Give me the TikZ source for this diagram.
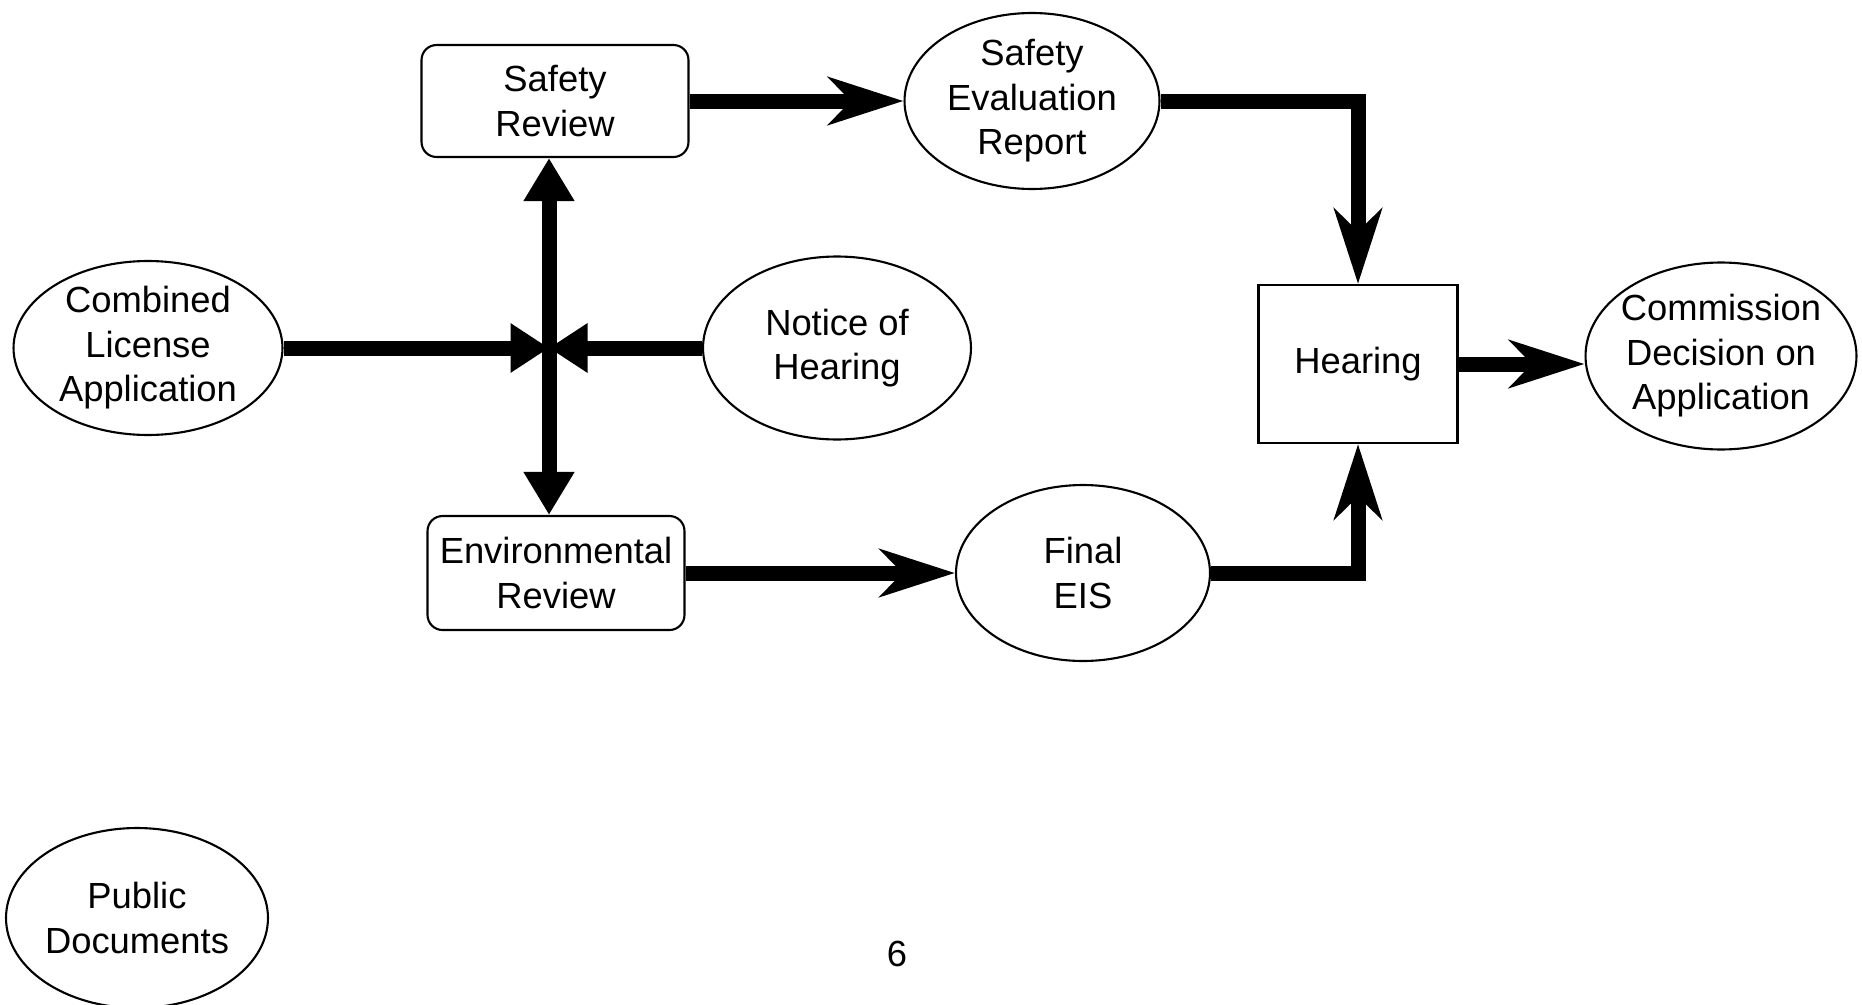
\documentclass[tikz,border=0pt]{standalone}
\usepackage{fontspec}
\setmainfont{Liberation Sans}
\usetikzlibrary{
  shapes,       % Shape "ellipse"
  arrows.meta,  % Tips "Stealth", "Triangle"
  positioning,
}
\def\mylw{0.3cm}
\tikzset{
  x=0.02cm,
  y=-0.02cm,
  font=\fontsize{20.7}{25.3}\selectfont,
  my text/.style={
    align=center,
    inner sep=0mm
  },
  my box/.style={
    draw,
    line width=1.2pt,
    rounded corners=3mm,
    rectangle,
    my text
  },
  my oval/.style={
    draw,
    line width=1.2pt,
    ellipse,
    my text,
    inner xsep=-3mm  % Let minimum width decide
  },
  my flow/.style={
    line width=\mylw,
    -{Stealth[length=1.5cm,width=0.95cm,inset=0.45cm]}
  },
  my meet/.style={
    line width=\mylw,
    -{Triangle[length=0.77cm,width=0.94cm]}
  },
  my split/.style={
    line width=\mylw,
    -{Triangle[length=0.86cm,width=0.96cm]}
  }
}
\begin{document}
\begin{tikzpicture}
\useasboundingbox (0,0) rectangle (1862,1004);
\node[my oval,minimum width=5.38cm,minimum height=3.48cm] (cla) at (148,348)  {Combined\\License\\Application};
\node[my box,minimum width=5.34cm,minimum height=2.24cm]  (sr)  at (555,101)  {Safety\\Review};
\node[my box,minimum width=5.14cm,minimum height=2.28cm]  (er)  at (556,573)  {Environmental\\Review};
\node[my oval,minimum width=5.36cm,minimum height=3.66cm] (nh)  at (837,348)  {Notice of\\Hearing};
\node[my oval,minimum width=5.10cm,minimum height=3.52cm] (ser) at (1032,101) {Safety\\Evaluation\\Report};
\node[my oval,minimum width=5.08cm,minimum height=3.52cm] (eis) at (1083,573) {Final\\EIS};
\node[my box,rounded corners=0mm,minimum width=3.98cm,minimum height=3.16cm] (hear) at (1358,364) {Hearing};
\node[my oval,minimum width=5.42cm,minimum height=3.74cm] (cda) at (1721,356) {Commission\\Decision on\\Application};
\node[my oval,minimum width=5.24cm,minimum height=3.60cm] (pub) at (137,918)  {Public\\Documents};
\node[my text] (pg) at (897,954) {6};
\coordinate (jn) at (549,348);
% junction
\draw[my meet]  (cla) -- (jn);
\draw[my meet]  (nh)  -- (jn);
\draw[my split] (jn)  -- (jn |- sr.south);
\draw[my split] (jn)  -- (jn |- er.north);
% flow to the decision
\draw[my flow] (sr)  -- (ser);
\draw[my flow] (er)  -- (eis);
\draw[my flow] (ser) -| (hear);
\draw[my flow] (eis) -| (hear);
\draw[my flow] (hear.east) -- (hear.east -| cda.west);
\end{tikzpicture}
\end{document}
